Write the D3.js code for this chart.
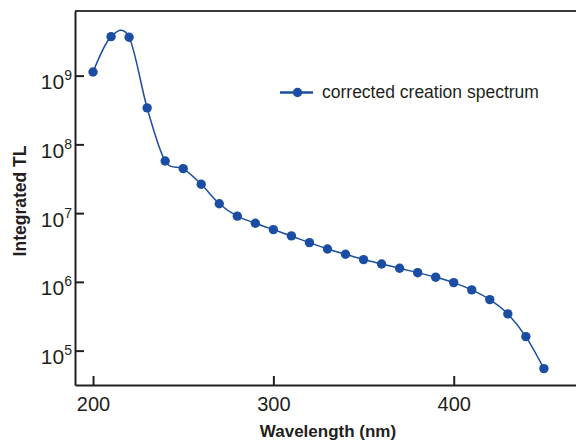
<!DOCTYPE html>
<html>
<head>
<meta charset="utf-8">
<script src="https://cdn.jsdelivr.net/npm/d3@7"></script>
<style>
  body { margin: 0; background: #fff; }
  text { font-family: "Liberation Sans", Arial, sans-serif; fill: #231f20; }
</style>
</head>
<body>
<div id="wrapper"></div>
<script>
// data
const wavelengths = [200, 210, 220, 230, 240, 250, 260, 270, 280, 290, 300, 310, 320,
    330, 340, 350, 360, 370, 380, 390, 400, 410, 420, 430, 440, 450]
const integratedTL = [1.13e9, 3.69e9, 3.62e9, 3.39e8, 5.74e7, 4.44e7, 2.63e7, 1.37e7,
    9.03e6, 7.13e6, 5.75e6, 4.66e6, 3.72e6, 3.01e6, 2.52e6, 2.11e6, 1.82e6, 1.58e6,
    1.36e6, 1.17e6, 9.76e5, 7.64e5, 5.52e5, 3.42e5, 1.60e5, 5.48e4]
const xTicks = [200, 300, 400]
const yTickExponents = [5, 6, 7, 8, 9]
const seriesName = "corrected creation spectrum"

const dataset = wavelengths.map((w, i) => ({ w: w, v: integratedTL[i] }))

const xAccessor = d => d.w
const yAccessor = d => d.v

const dims = {
    width: 576,
    height: 444,
    left: 75,
    right: 576,
    top: 11,
    bottom: 385,
}

const color = "#1b4ea3"
const ink = "#231f20"

const svg = d3.select("#wrapper")
    .append("svg")
    .attr("width", dims.width)
    .attr("height", dims.height)

// scales
const xScale = d3.scaleLinear()
    .domain([190, 467.8])
    .range([dims.left, dims.right])

const yScale = d3.scaleLog()
    .domain([Math.pow(10, 4.5), Math.pow(10, 9.94)])
    .range([dims.bottom, dims.top])

// top border
svg.append("line")
    .attr("x1", dims.left).attr("x2", dims.right)
    .attr("y1", dims.top).attr("y2", dims.top)
    .attr("stroke", "#3a3a3a")
    .attr("stroke-width", 2)

// axes
const xAxis = svg.append("g")
    .attr("transform", `translate(0,${dims.bottom})`)
    .call(d3.axisBottom(xScale)
        .tickValues(xTicks)
        .tickSize(-9)
        .tickSizeOuter(0))

xAxis.select(".domain").attr("stroke", ink).attr("stroke-width", 2)
xAxis.selectAll(".tick line").attr("stroke", ink).attr("stroke-width", 2)
xAxis.selectAll(".tick text")
    .style("font-size", "20px")
    .attr("fill", ink)
    .attr("dy", "0.71em")
    .attr("y", 12)

const yAxis = svg.append("g")
    .attr("transform", `translate(${dims.left},0)`)
    .call(d3.axisLeft(yScale)
        .tickValues(yTickExponents.map(e => Math.pow(10, e)))
        .tickSize(-9)
        .tickSizeOuter(0)
        .tickFormat(""))

yAxis.select(".domain").attr("stroke", ink).attr("stroke-width", 2)
yAxis.selectAll(".tick line").attr("stroke", ink).attr("stroke-width", 2)

// power-of-ten labels
yAxis.selectAll(".tick text").remove()
const yLabels = yAxis.selectAll(".tick")
    .append("text")
    .attr("x", -3)
    .attr("y", 13)
    .attr("text-anchor", "end")
    .attr("fill", ink)
    .style("font-size", "21px")

yLabels.append("tspan").text("10")
yLabels.append("tspan")
    .attr("dy", -9)
    .style("font-size", "14px")
    .text((d) => Math.round(Math.log10(d)))

// line + dots
const lineGenerator = d3.line()
    .x(d => xScale(xAccessor(d)))
    .y(d => yScale(yAccessor(d)))
    .curve(d3.curveCardinal)

svg.append("path")
    .attr("d", lineGenerator(dataset))
    .attr("fill", "none")
    .attr("stroke", color)
    .attr("stroke-width", 1.5)

svg.selectAll("circle.dot")
    .data(dataset)
    .join("circle")
    .attr("class", "dot")
    .attr("cx", d => xScale(xAccessor(d)))
    .attr("cy", d => yScale(yAccessor(d)))
    .attr("r", 4.7)
    .attr("fill", color)

// legend
const legend = svg.append("g")
    .attr("transform", "translate(280,92.5)")

legend.append("line")
    .attr("x1", 0).attr("x2", 33)
    .attr("stroke", color)
    .attr("stroke-width", 2.5)

legend.append("circle")
    .attr("cx", 17.5)
    .attr("r", 4.7)
    .attr("fill", color)

legend.append("text")
    .attr("x", 42)
    .attr("y", 5.5)
    .style("font-size", "17.5px")
    .text(seriesName)

// axis titles
svg.append("text")
    .attr("x", 328)
    .attr("y", 437)
    .attr("text-anchor", "middle")
    .style("font-size", "17px")
    .style("font-weight", "bold")
    .text("Wavelength (nm)")

svg.append("text")
    .attr("transform", "translate(26,201) rotate(-90)")
    .attr("text-anchor", "middle")
    .style("font-size", "17.5px")
    .style("font-weight", "bold")
    .text("Integrated TL")
</script>
</body>
</html>
